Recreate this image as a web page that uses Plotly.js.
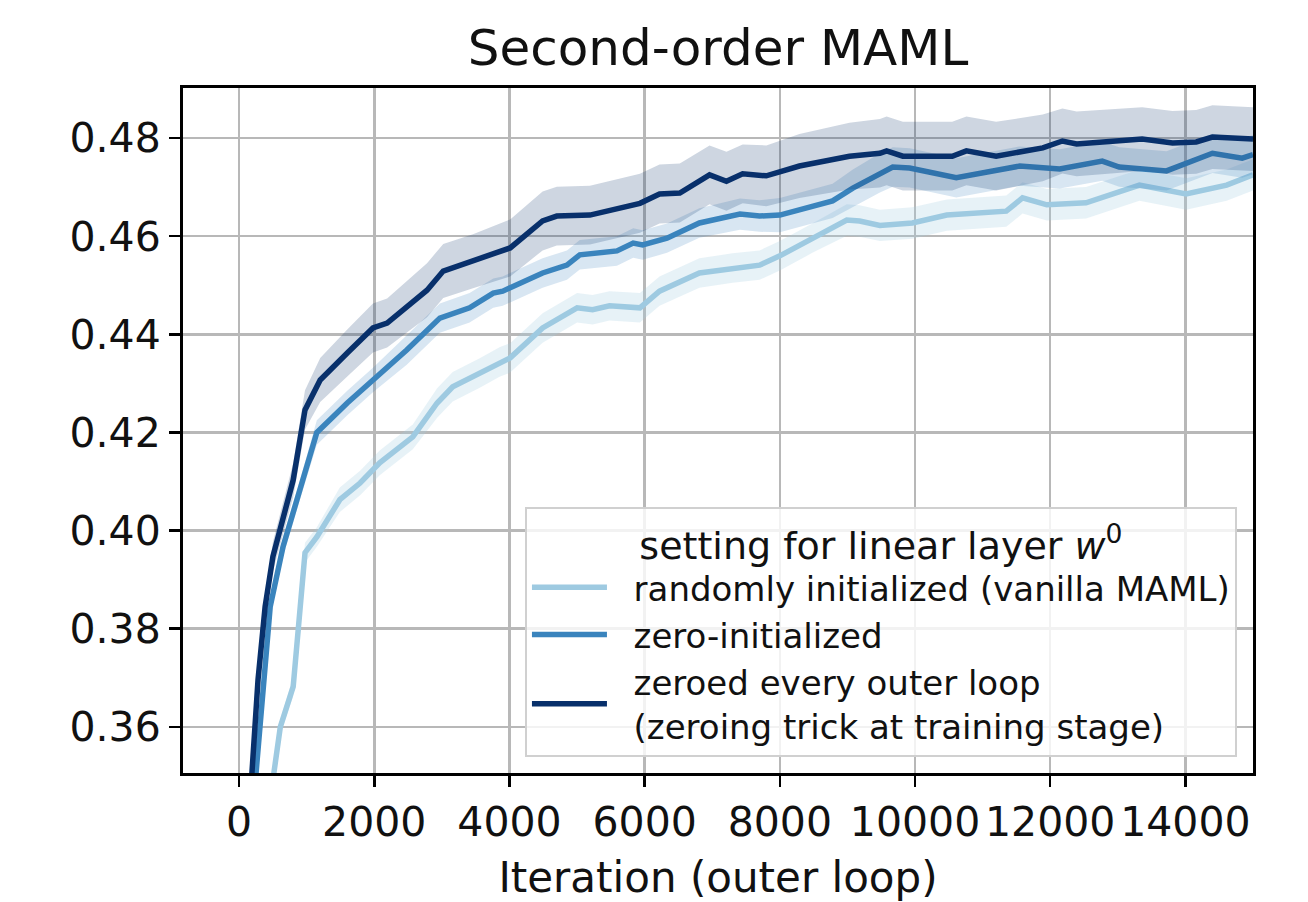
<!DOCTYPE html>
<html>
<head>
<meta charset="utf-8">
<script src="https://cdn.plot.ly/plotly-3.0.1.min.js"></script>
<style>html,body{margin:0;padding:0;background:#fff;}#chart{width:1308px;height:902px;}</style>
</head>
<body>
<div id="chart"></div>
<script>
// ---- data ----
const seriesNames = [
  'randomly initialized (vanilla MAML)',
  'zero-initialized',
  'zeroed every outer loop<br>(zeroing trick at training stage)'
];

// randomly initialized (vanilla MAML)
const lightX = [0, 500, 610, 800, 870, 975, 1150, 1490, 1790, 2080, 2570, 2930, 3160, 3560, 3860, 4010, 4490, 5000, 5230, 5480, 5930, 6220, 6810, 7300, 7700, 8000, 8480, 8990, 9180, 9480, 9960, 10470, 11350, 11590, 11950, 12530, 13320, 13810, 14010, 14610, 15000];
const lightY = [0.300, 0.3507, 0.3600, 0.3682, 0.3800, 0.3955, 0.3987, 0.4063, 0.4097, 0.4138, 0.4191, 0.4260, 0.4293, 0.4321, 0.4344, 0.4352, 0.4413, 0.4454, 0.4450, 0.4458, 0.4454, 0.4488, 0.4525, 0.4535, 0.4541, 0.4560, 0.4596, 0.4633, 0.4631, 0.4622, 0.4627, 0.4643, 0.4651, 0.4678, 0.4664, 0.4668, 0.4704, 0.4692, 0.4686, 0.4704, 0.4725];
const lightSd = [0.0015, 0.0015, 0.0015, 0.002, 0.002, 0.002, 0.002, 0.0025, 0.0025, 0.0025, 0.0025, 0.003, 0.003, 0.003, 0.003, 0.003, 0.003, 0.003, 0.003, 0.003, 0.003, 0.003, 0.003, 0.003, 0.003, 0.003, 0.003, 0.0032, 0.0032, 0.0032, 0.0032, 0.0032, 0.0032, 0.0032, 0.0032, 0.0032, 0.0032, 0.0032, 0.0032, 0.0032, 0.0032];

// zero-initialized
const midX = [0, 240, 460, 650, 900, 1150, 1600, 1980, 2480, 2970, 3410, 3760, 3900, 4490, 4850, 5040, 5590, 5830, 5970, 6330, 6810, 7410, 7700, 8000, 8780, 9080, 9480, 9670, 9920, 10610, 11550, 12140, 12770, 13020, 13720, 14400, 14840, 15000];
const midY = [0.310, 0.350, 0.3845, 0.3967, 0.4083, 0.4200, 0.4260, 0.4307, 0.4368, 0.4433, 0.4454, 0.4484, 0.4488, 0.4525, 0.4541, 0.4562, 0.4570, 0.4586, 0.4582, 0.4596, 0.4627, 0.4645, 0.4641, 0.4643, 0.4672, 0.4698, 0.4729, 0.4741, 0.4739, 0.4719, 0.4743, 0.4737, 0.4753, 0.4741, 0.4733, 0.4769, 0.4759, 0.4766];
const midSd = [0.0015, 0.0015, 0.002, 0.002, 0.002, 0.0025, 0.0025, 0.0025, 0.003, 0.003, 0.003, 0.003, 0.003, 0.003, 0.003, 0.003, 0.003, 0.003, 0.003, 0.003, 0.003, 0.0032, 0.0032, 0.0035, 0.0035, 0.0038, 0.004, 0.004, 0.004, 0.004, 0.004, 0.004, 0.004, 0.004, 0.004, 0.004, 0.004, 0.004];

// zeroed every outer loop
const darkX = [0, 190, 280, 385, 500, 800, 975, 1200, 1600, 1980, 2190, 2780, 3020, 3270, 3460, 4010, 4490, 4700, 5190, 5930, 6220, 6520, 6960, 7210, 7450, 7800, 8290, 9030, 9480, 9580, 9820, 10550, 10760, 11200, 11890, 12180, 12390, 13360, 13810, 14160, 14400, 15000];
const darkY = [0.320, 0.3507, 0.3696, 0.3845, 0.3947, 0.4103, 0.4246, 0.4307, 0.4362, 0.4413, 0.4423, 0.4490, 0.4529, 0.4541, 0.4549, 0.4576, 0.4631, 0.4641, 0.4643, 0.4667, 0.4686, 0.4688, 0.4725, 0.4712, 0.4727, 0.4723, 0.4743, 0.4763, 0.4769, 0.4774, 0.4763, 0.4763, 0.4774, 0.4763, 0.4780, 0.4794, 0.4788, 0.4798, 0.4790, 0.4792, 0.4802, 0.4798];
const darkSd = [0.002, 0.002, 0.002, 0.0025, 0.003, 0.0035, 0.004, 0.0045, 0.0048, 0.005, 0.005, 0.0055, 0.0055, 0.0055, 0.0055, 0.0058, 0.006, 0.006, 0.006, 0.006, 0.006, 0.006, 0.006, 0.006, 0.006, 0.0062, 0.0065, 0.0068, 0.007, 0.007, 0.007, 0.007, 0.007, 0.007, 0.0068, 0.0066, 0.0066, 0.0065, 0.0065, 0.0065, 0.0065, 0.0065];

const xTicks = [0, 2000, 4000, 6000, 8000, 10000, 12000, 14000];
const yTicks = [0.36, 0.38, 0.40, 0.42, 0.44, 0.46, 0.48];

// ---- styling ----
const colors = ['#9ecae1', '#3a84bd', '#08306b'];
const bandColors = ['rgba(158,202,225,0.25)', 'rgba(58,132,189,0.2)', 'rgba(8,48,107,0.2)'];

const sets = [
  [lightX, lightY, lightSd],
  [midX, midY, midSd],
  [darkX, darkY, darkSd]
];

const pad = '\u00a0\u00a0';
const traces = [];
sets.forEach(([xs, ys, sd], i) => {
  const upper = ys.map((v, k) => v + sd[k]);
  const lower = ys.map((v, k) => v - sd[k]);
  traces.push({x: xs, y: upper, type: 'scatter', mode: 'lines', line: {width: 0, color: colors[i]},
               showlegend: false, hoverinfo: 'skip'});
  traces.push({x: xs, y: lower, type: 'scatter', mode: 'lines', line: {width: 0, color: colors[i]},
               fill: 'tonexty', fillcolor: bandColors[i], showlegend: false, hoverinfo: 'skip'});
  traces.push({x: xs, y: ys, type: 'scatter', mode: 'lines',
               name: seriesNames[i].split('<br>').map(s => pad + s).join('<br>'),
               line: {width: 5.5, color: colors[i]}});
});

const axisCommon = {
  showgrid: true, gridcolor: '#b8b8b8', gridwidth: 2.5,
  zeroline: false, showline: true, linecolor: '#000', linewidth: 3, mirror: true,
  ticks: 'outside', ticklen: 11, tickwidth: 2.5, tickcolor: '#000',
  tickfont: {size: 41, color: '#111'}
};

const layout = {
  width: 1308, height: 902,
  margin: {l: 183, r: 55, t: 88, b: 129, pad: 0},
  paper_bgcolor: '#fff', plot_bgcolor: '#fff',
  font: {family: 'DejaVu Sans', color: '#111', size: 40},
  title: {text: 'Second-order MAML', font: {size: 50, color: '#111'},
          xref: 'paper', x: 0.5, xanchor: 'center',
          yref: 'container', y: 1 - 47 / 902, yanchor: 'middle'},
  xaxis: Object.assign({}, axisCommon, {
    range: [-830, 15000], tickvals: xTicks, ticktext: xTicks.map(String),
    title: {text: 'Iteration (outer loop)', font: {size: 42, color: '#111'}, standoff: 22}
  }),
  yaxis: Object.assign({}, axisCommon, {
    range: [0.3506, 0.4902], tickvals: yTicks, ticktext: yTicks.map(v => v.toFixed(2))
  }),
  legend: {
    x: 0.985, xanchor: 'right', y: 0.023, yanchor: 'bottom',
    traceorder: 'normal',
    bgcolor: 'rgba(255,255,255,0.82)', bordercolor: '#d0d0d0', borderwidth: 2,
    font: {size: 34, color: '#111'},
    itemwidth: 75,
    title: {text: 'setting for linear layer <i>w</i><sup>0</sup>', side: 'top center', font: {size: 38, color: '#111'}},
    tracegroupgap: 0
  },
  showlegend: true
};

Plotly.newPlot('chart', traces, layout, {displayModeBar: false, staticPlot: true});
</script>
</body>
</html>
